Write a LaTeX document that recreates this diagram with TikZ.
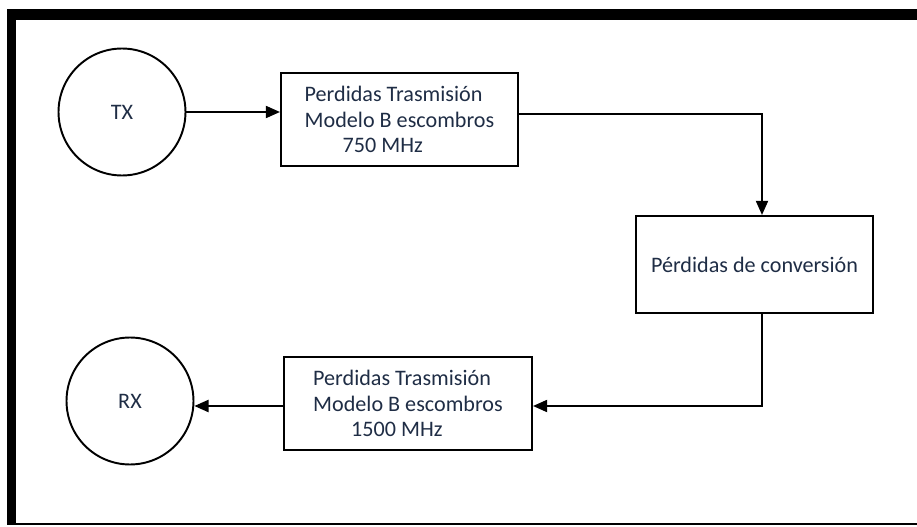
\documentclass[tikz,border=0pt]{standalone}
\usepackage{fontspec}
\setmainfont{Carlito}
\usepackage{tikz}
\usetikzlibrary{arrows.meta,positioning,calc}
\usepackage{xcolor}
\definecolor{inkblue}{HTML}{1F2D45}

\tikzset{
  station/.style={draw, circle, line width=1.1pt, minimum size=2.54cm, inner sep=0pt, text=inkblue},
  lossbox/.style={draw, line width=1.3pt, inner sep=0pt, align=left, text=inkblue},
  flow/.style={line width=0.6pt, -{Triangle[length=8pt,width=7pt]}},
  link/.style={line width=0.6pt}
}

\begin{document}
\begin{tikzpicture}[x=0.02cm, y=-0.02cm, font=\fontsize{12.6}{14.7}\selectfont]
\useasboundingbox (0,0) rectangle (917,527);
% Frame
\fill (7,9) rectangle (917,20);
\fill (7,9) rectangle (16,525);
\fill (7,523) rectangle (917,525);
% Stations
\node[station] (tx) at (122,112) {TX};
\node[station] (rx) at (130,401) {RX};
% Loss blocks
\node[lossbox, minimum width=4.74cm, minimum height=1.86cm] (tl1) at (399.5,119.5)
  {Perdidas Trasmisión\\Modelo B escombros\\\hspace*{0.76cm}750 MHz};
\node[lossbox, align=center, minimum width=4.74cm, minimum height=1.94cm] (conv) at (754.5,264.5)
  {Pérdidas de conversión};
\node[lossbox, minimum width=4.96cm, minimum height=1.86cm] (tl2) at (408,403.5)
  {Perdidas Trasmisión\\Modelo B escombros\\\hspace*{0.76cm}1500 MHz};
% Connectors
\coordinate (turn1) at (762,114);
\coordinate (turn2) at (762,406);
\draw[flow] (tx.east) -- (tx.east -| tl1.west);
\draw[flow] (tl1.east |- turn1) -- (turn1) -- (conv.north -| turn1);
\draw[flow] (conv.south -| turn2) -- (turn2) -- (turn2 -| tl2.east);
\draw[flow] (tl2.west |- turn2) -- (rx.east |- turn2);
\end{tikzpicture}
\end{document}
